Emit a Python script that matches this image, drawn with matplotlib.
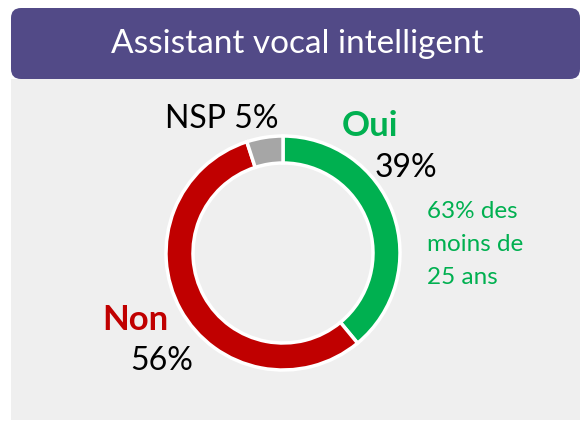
import matplotlib.pyplot as plt
from matplotlib.patches import FancyBboxPatch, Rectangle

# data
labels = ["Oui", "Non", "NSP"]
values = [39, 56, 5]
colors = ["#00B050", "#C00000", "#A6A6A6"]
title = "Assistant vocal intelligent"
note_lines = ["63% des", "moins de", "25 ans"]

H = 421
plt.rcParams['font.family'] = ['Lato', 'DejaVu Sans']

fig = plt.figure(figsize=(5.82, 4.21), dpi=100)
ax = fig.add_axes([0, 0, 1, 1])

# grey panel + purple header
ax.add_patch(Rectangle((11, 1), 569, H - 79 - 1, facecolor="#EFEFEF", edgecolor="none", zorder=0))
ax.add_patch(FancyBboxPatch((11, H - 79), 569, 71, boxstyle="round,pad=0,rounding_size=10",
                            facecolor="#524A87", edgecolor="none", zorder=1))
ax.text(297, H - 53, title, color="white", fontsize=24, ha="center", va="baseline", zorder=2)

# donut
ax.pie(values, colors=colors, startangle=90, counterclock=False,
       center=(283, H - 253), radius=117,
       wedgeprops=dict(width=27, edgecolor="white", linewidth=2.5))

# labels
ax.text(165, H - 128, "NSP 5%", fontsize=23, color="black", ha="left", va="baseline")
ax.text(370, H - 136, "Oui", fontsize=25, fontweight="bold", color="#00B050", ha="center", va="baseline")
ax.text(406, H - 177, "39%", fontsize=23, color="black", ha="center", va="baseline")
for i, line in enumerate(note_lines):
    ax.text(427, H - 218 - i * 33, line, fontsize=17.5, color="#00B050", ha="left", va="baseline")
ax.text(135, H - 330, "Non", fontsize=25, fontweight="bold", color="#C00000", ha="center", va="baseline")
ax.text(162, H - 370, "56%", fontsize=23, color="black", ha="center", va="baseline")

ax.set_xlim(0, 582)
ax.set_ylim(0, H)
ax.set_aspect("auto")
ax.axis("off")

fig.savefig("out.png", dpi=100)
